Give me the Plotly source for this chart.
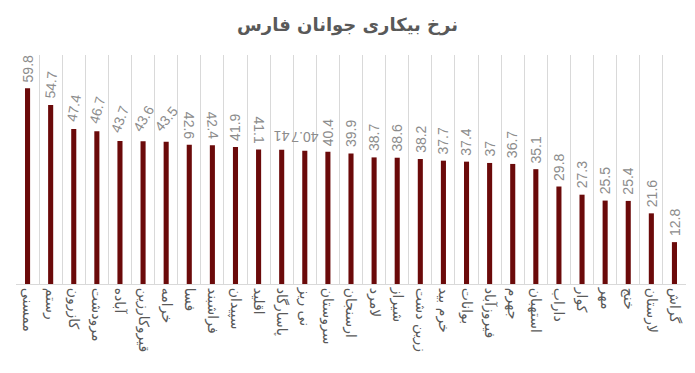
import plotly.graph_objects as go

categories = ["ممسنی", "رستم", "کازرون", "مرودشت", "آباده", "قیروکارزین", "خرامه", "فسا",
              "فراشبند", "سپیدان", "اقلید", "پاسارگاد", "نی ریز", "سروستان", "ارسنجان",
              "لامرد", "شیراز", "زرین دشت", "خرم بید", "بوانات", "فیروزآباد", "جهرم",
              "استهبان", "داراب", "کوار", "مهر", "خنج", "لارستان", "گراش"]
values = [59.8, 54.7, 47.4, 46.7, 43.7, 43.6, 43.5, 42.6, 42.4, 41.9, 41.1, 41, 40.7, 40.4,
          39.9, 38.7, 38.6, 38.2, 37.7, 37.4, 37, 36.7, 35.1, 29.8, 27.3, 25.5, 25.4, 21.6, 12.8]
title_text = "نرخ بیکاری جوانان فارس"
test_angles = [-90, -85, -80, -75, -70, -60, -50, 90, 85, 270, -270, -180, 180, -90.0]

W, H = 695, 373
ml, mr, mt, mb = 16, 9, 55, 89

fig = go.Figure(go.Bar(
    x=categories, y=values,
    marker=dict(color="#6b0a0a", line=dict(width=0)),
    cliponaxis=False,
))

for i, (c, v) in enumerate(zip(categories, values)):
    ang = test_angles[i] if i < len(test_angles) else -90
    fig.add_annotation(x=c, y=v, xref="x", yref="y", text=str(v), showarrow=False,
                       textangle=ang, yanchor="bottom", yshift=4,
                       font=dict(family="Liberation Sans, Arial", size=14, color="#8c8c8c"))

fig.update_layout(
    width=W, height=H,
    margin=dict(l=ml, r=mr, t=mt, b=mb, autoexpand=False),
    paper_bgcolor="white", plot_bgcolor="white",
    bargap=0.78,
    showlegend=False,
    title=dict(text="<b>" + title_text + "</b>", x=0.5, xanchor="center", y=1 - 25 / H, yanchor="middle",
               font=dict(family="DejaVu Sans", size=18, color="#595959")),
    xaxis=dict(type="category", tickson="boundaries", showgrid=True, gridcolor="#d9d9d9", gridwidth=1,
               tickangle=90, ticks="", showline=True, linecolor="#d9d9d9", automargin=False,
               range=[-0.5, len(categories) - 0.5],
               tickfont=dict(family="DejaVu Sans", size=14, color="#595959")),
    yaxis=dict(range=[0, 70], visible=False, showgrid=False),
)

fig.write_html("out.html")
